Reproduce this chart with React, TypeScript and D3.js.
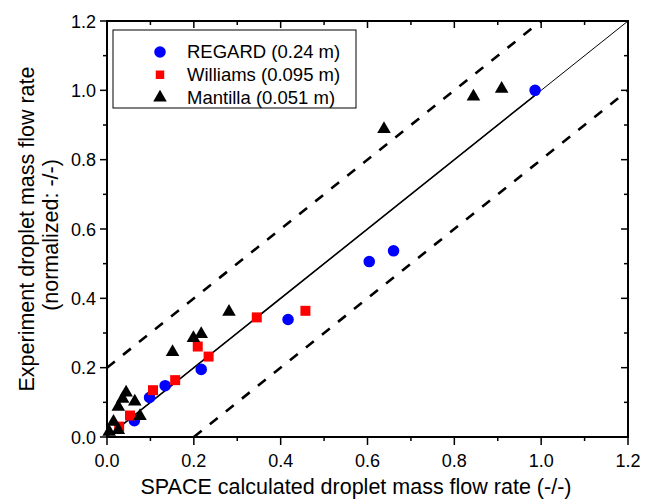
import * as d3 from 'd3'
import { useEffect, useRef } from 'react'

const regardX = [0.063, 0.098, 0.134, 0.217, 0.417, 0.604, 0.660, 0.986]
const regardY = [0.047, 0.114, 0.148, 0.195, 0.339, 0.506, 0.537, 1.0]

const williamsX = [0.028, 0.053, 0.106, 0.157, 0.209, 0.234, 0.345, 0.457]
const williamsY = [0.030, 0.062, 0.135, 0.164, 0.261, 0.232, 0.345, 0.364]

const mantillaX = [0.005, 0.026, 0.015, 0.026, 0.036, 0.044, 0.064, 0.076, 0.151, 0.199, 0.217, 0.281, 0.638, 0.844, 0.909]
const mantillaY = [0.015, 0.020, 0.044, 0.087, 0.110, 0.128, 0.102, 0.060, 0.245, 0.285, 0.297, 0.361, 0.888, 0.982, 1.004]

const seriesNames = ['REGARD (0.24 m)', 'Williams (0.095 m)', 'Mantilla (0.051 m)']
const seriesColors = ['#0000ff', '#ff0000', '#000000']

const majorTicks = [0, 0.2, 0.4, 0.6, 0.8, 1.0, 1.2]
const minorTicks = [0.1, 0.3, 0.5, 0.7, 0.9, 1.1]

const FONT = '"Liberation Sans", Arial, sans-serif'

const App = () => {
    const svgRef = useRef(null)

    useEffect(() => {
        const w = 653
        const h = 501
        const left = 107, right = 628, top = 21, bottom = 437
        const svg = d3.select(svgRef.current)
        svg.selectAll('*').remove()
        svg.attr('width', w).attr('height', h)

        const x = d3.scaleLinear().domain([0, 1.2]).range([left, right])
        const y = d3.scaleLinear().domain([0, 1.2]).range([bottom, top])

        const symbols = [d3.symbolCircle, d3.symbolSquare, d3.symbolTriangle]
        const sizes = [105, 100, 80]
        const series = [
            d3.zip(regardX, regardY),
            d3.zip(williamsX, williamsY),
            d3.zip(mantillaX, mantillaY),
        ]

        // reference lines
        const line = d3.line().x(d => x(d[0])).y(d => y(d[1]))
        svg.append('path')
           .attr('d', line([[0, 0], [1.2, 1.2]]))
           .attr('fill', 'none').attr('stroke', 'black').attr('stroke-width', 1)
        svg.append('path')
           .attr('d', line([[0.01, 0.01], [0.985, 0.985]]))
           .attr('fill', 'none').attr('stroke', 'black').attr('stroke-width', 1.6)
        svg.append('path')
           .attr('d', line([[0, 0.2], [1.0, 1.2]]))
           .attr('fill', 'none').attr('stroke', 'black').attr('stroke-width', 2.6)
           .attr('stroke-dasharray', '10,10.5')
        svg.append('path')
           .attr('d', line([[0.2, 0], [1.2, 1.0]]))
           .attr('fill', 'none').attr('stroke', 'black').attr('stroke-width', 2.6)
           .attr('stroke-dasharray', '10,10.5')

        // points
        series.forEach((pts, i) => {
            svg.append('g')
               .selectAll('path')
               .data(pts)
               .join('path')
               .attr('transform', d => `translate(${x(d[0])},${y(d[1])})`)
               .attr('d', d3.symbol().type(symbols[i]).size(sizes[i]))
               .attr('fill', seriesColors[i])
        })

        // axes: outer ticks on bottom/left, inner on top/right
        const ax = svg.append('g').attr('stroke', 'black').attr('stroke-width', 1.5)
        majorTicks.forEach(t => {
            ax.append('line').attr('x1', x(t)).attr('x2', x(t)).attr('y1', bottom).attr('y2', bottom + 8)
            ax.append('line').attr('x1', x(t)).attr('x2', x(t)).attr('y1', top).attr('y2', top + 7)
            ax.append('line').attr('y1', y(t)).attr('y2', y(t)).attr('x1', left).attr('x2', left - 7)
            ax.append('line').attr('y1', y(t)).attr('y2', y(t)).attr('x1', right).attr('x2', right - 7)
        })
        minorTicks.forEach(t => {
            ax.append('line').attr('x1', x(t)).attr('x2', x(t)).attr('y1', bottom).attr('y2', bottom + 4)
            ax.append('line').attr('x1', x(t)).attr('x2', x(t)).attr('y1', top).attr('y2', top + 4)
            ax.append('line').attr('y1', y(t)).attr('y2', y(t)).attr('x1', left).attr('x2', left - 4)
            ax.append('line').attr('y1', y(t)).attr('y2', y(t)).attr('x1', right).attr('x2', right - 4)
        })
        svg.append('rect')
           .attr('x', left).attr('y', top)
           .attr('width', right - left).attr('height', bottom - top)
           .attr('fill', 'none').attr('stroke', 'black').attr('stroke-width', 2)

        const fmt = d3.format('.1f')
        svg.append('g').selectAll('text')
           .data(majorTicks).join('text')
           .attr('x', d => x(d)).attr('y', bottom + 30)
           .attr('text-anchor', 'middle')
           .style('font-family', FONT).style('font-size', '18px')
           .text(d => fmt(d))
        svg.append('g').selectAll('text')
           .data(majorTicks).join('text')
           .attr('x', left - 11).attr('y', d => y(d) + 6.5)
           .attr('text-anchor', 'end')
           .style('font-family', FONT).style('font-size', '18px')
           .text(d => fmt(d))

        // axis titles
        svg.append('text')
           .attr('x', 356).attr('y', 494)
           .attr('text-anchor', 'middle')
           .style('font-family', FONT).style('font-size', '21.5px')
           .text('SPACE calculated droplet mass flow rate (-/-)')
        svg.append('text')
           .attr('transform', `translate(34, ${(top + bottom) / 2}) rotate(-90)`)
           .attr('text-anchor', 'middle')
           .style('font-family', FONT).style('font-size', '21.5px')
           .text('Experiment droplet mass flow rate')
        svg.append('text')
           .attr('transform', `translate(58, ${(top + bottom) / 2 + 6}) rotate(-90)`)
           .attr('text-anchor', 'middle')
           .style('font-family', FONT).style('font-size', '21.5px')
           .text('(normalized: -/-)')

        // legend
        const lg = svg.append('g')
        lg.append('rect')
          .attr('x', 113).attr('y', 30).attr('width', 243).attr('height', 78)
          .attr('fill', 'white').attr('stroke', 'black').attr('stroke-width', 1)
        const ly = d3.scalePoint().domain(seriesNames).range([52, 97.5])
        seriesNames.forEach((name, i) => {
            lg.append('path')
              .attr('transform', `translate(160,${ly(name)})`)
              .attr('d', d3.symbol().type(symbols[i]).size(i === 1 ? 72 : sizes[i]))
              .attr('fill', seriesColors[i])
            lg.append('text')
              .attr('x', 187).attr('y', ly(name) + 6)
              .style('font-family', FONT).style('font-size', '18.5px')
              .text(name)
        })
    }, [])

    return (
        <svg ref={svgRef} style={{ position: 'absolute', left: 0, top: 0, background: 'white' }} />
    )
}

export default App
